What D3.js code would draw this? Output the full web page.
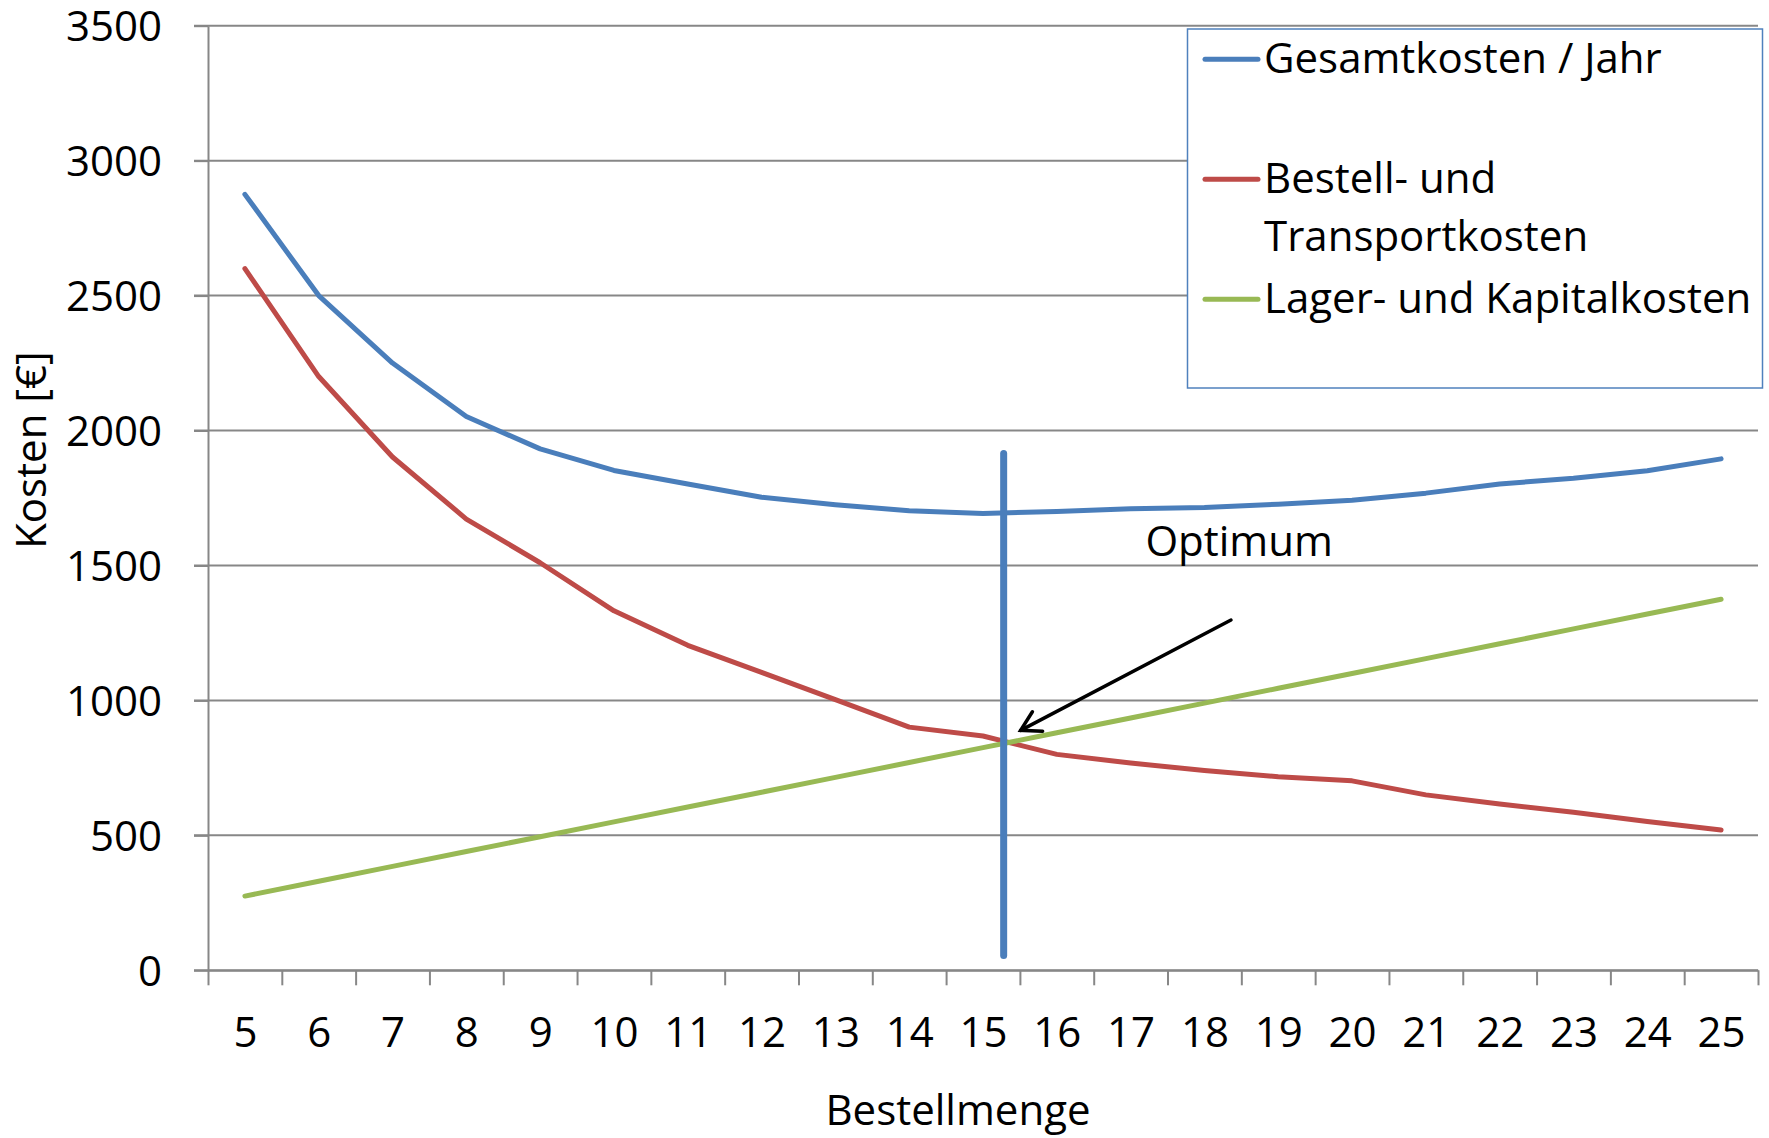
<!DOCTYPE html>
<html><head><meta charset="utf-8">
<script src="https://cdn.jsdelivr.net/npm/d3@7"></script>
<style>
html,body{margin:0;padding:0;background:#fff;}
svg{display:block;font-family:"Open Sans",sans-serif;}
</style>
</head><body>
<svg id="chart" width="1769" height="1138"></svg>
<script>
// ---- data ----
const categories = [5,6,7,8,9,10,11,12,13,14,15,16,17,18,19,20,21,22,23,24,25];
const gesamtkosten = [2875,2500,2250,2052,1932,1852,1802,1753,1725,1703,1693,1700,1710,1715,1727,1742,1768,1802,1823,1851,1895];
const bestellkosten = [2600,2200,1902,1672,1510,1332,1204,1104,1003,901,868,800,768,740,717,702,650,616,586,551,520];
const lagerkosten = [275,330,385,440,495,550,605,660,715,770,825,880,935,990,1045,1100,1155,1210,1265,1320,1375];
const yTicks = [0,500,1000,1500,2000,2500,3000,3500];
const seriesNames = ["Gesamtkosten / Jahr", "Bestell- und Transportkosten", "Lager- und Kapitalkosten"];
const legendLines = [["Gesamtkosten / Jahr"], ["Bestell- und", "Transportkosten"], ["Lager- und Kapitalkosten"]];
const xTitle = "Bestellmenge";
const yTitle = "Kosten [€]";
const optimumX = 15.28, optimumFrom = 55, optimumTo = 1915;
const arrowFrom = [18.36, 1298], arrowTo = [15.51, 889];
const optimumLabel = "Optimum", optimumLabelAt = [17.2, 1535];

(function () {
// ---- layout ----
const colors = ["#4A7EBB", "#BE4B48", "#98B954"];
const grid = "#878787";
const FS = 42;
const pLeft = 208, pRight = 1758, pTop = 25.7, pBottom = 970.3;

const svg = d3.select("#chart");
const x = d3.scaleLinear().domain([4.5, 25.5]).range([pLeft, pRight]);
const y = d3.scaleLinear().domain([0, 3500]).range([pBottom, pTop]);

// gridlines
svg.append("g").selectAll("line").data(yTicks).join("line")
  .attr("x1", pLeft - 14).attr("x2", pRight)
  .attr("y1", d => y(d)).attr("y2", d => y(d))
  .attr("stroke", grid).attr("stroke-width", 2);

// y axis
const yAxis = svg.append("g").attr("transform", `translate(${pLeft},0)`)
  .call(d3.axisLeft(y).tickValues(yTicks).tickSize(14).tickSizeOuter(0).tickPadding(32).tickFormat(d3.format("d")));
yAxis.select(".domain").attr("stroke", grid).attr("stroke-width", 2);
yAxis.selectAll(".tick line").attr("stroke", grid).attr("stroke-width", 2);
yAxis.selectAll(".tick text").attr("font-size", FS).attr("font-family", "Open Sans").attr("fill", "#000").attr("dy", "0.36em");

// x axis tick marks (category boundaries)
const bounds = d3.range(categories.length + 1).map(i => categories[0] - 0.5 + i);
const xTicks = svg.append("g").attr("transform", `translate(0,${pBottom})`)
  .call(d3.axisBottom(x).tickValues(bounds).tickSize(15).tickSizeOuter(0).tickFormat(""));
xTicks.select(".domain").attr("stroke", grid).attr("stroke-width", 2);
xTicks.selectAll(".tick line").attr("stroke", grid).attr("stroke-width", 2);

// x labels
const xLab = svg.append("g").attr("transform", `translate(0,${pBottom})`)
  .call(d3.axisBottom(x).tickValues(categories).tickSize(0).tickFormat(d3.format("d")));
xLab.select(".domain").remove();
xLab.selectAll(".tick text").attr("font-size", FS).attr("font-family", "Open Sans").attr("fill", "#000")
  .attr("dy", null).attr("y", 76.5);

// axis titles
svg.append("text").attr("x", 958).attr("y", 1125).attr("text-anchor", "middle")
  .attr("font-size", FS).text(xTitle);
svg.append("text").attr("transform", "translate(46,450) rotate(-90)").attr("text-anchor", "middle")
  .attr("font-size", FS).text(yTitle);

// series
const series = [gesamtkosten, bestellkosten, lagerkosten];
const line = d3.line().x((d, i) => x(categories[i])).y(d => y(d));
series.forEach((s, k) => {
  svg.append("path").datum(s).attr("d", line)
    .attr("fill", "none").attr("stroke", colors[k]).attr("stroke-width", 5)
    .attr("stroke-linejoin", "round").attr("stroke-linecap", "round");
});

// optimum vertical line
svg.append("line")
  .attr("x1", x(optimumX)).attr("x2", x(optimumX))
  .attr("y1", y(optimumTo)).attr("y2", y(optimumFrom))
  .attr("stroke", colors[0]).attr("stroke-width", 7).attr("stroke-linecap", "round");

// arrow
const ax0 = x(arrowFrom[0]), ay0 = y(arrowFrom[1]), ax1 = x(arrowTo[0]), ay1 = y(arrowTo[1]);
svg.append("line").attr("x1", ax0).attr("y1", ay0).attr("x2", ax1).attr("y2", ay1)
  .attr("stroke", "#000").attr("stroke-width", 3.5).attr("stroke-linecap", "round");
const ang = Math.atan2(ay0 - ay1, ax0 - ax1), aLen = 22, spread = Math.PI / 6;
const arm = a => [ax1 + aLen * Math.cos(a), ay1 + aLen * Math.sin(a)];
const p1 = arm(ang + spread), p2 = arm(ang - spread);
svg.append("path").attr("d", `M${p1[0]},${p1[1]}L${ax1},${ay1}L${p2[0]},${p2[1]}`)
  .attr("fill", "none").attr("stroke", "#000").attr("stroke-width", 3.5)
  .attr("stroke-linecap", "round").attr("stroke-linejoin", "miter");

svg.append("text").attr("x", x(optimumLabelAt[0])).attr("y", y(optimumLabelAt[1]))
  .attr("font-size", FS).text(optimumLabel);

// legend
const lg = svg.append("g");
lg.append("rect").attr("x", 1187.5).attr("y", 29).attr("width", 575).attr("height", 359)
  .attr("fill", "#fff").attr("stroke", "#4F81BD").attr("stroke-width", 1.5);
const legendY = [59.3, 179.3, 299.3];
legendLines.forEach((lines, k) => {
  lg.append("line").attr("x1", 1205).attr("x2", 1258).attr("y1", legendY[k]).attr("y2", legendY[k])
    .attr("stroke", colors[k]).attr("stroke-width", 5).attr("stroke-linecap", "round");
  lines.forEach((t, j) => {
    lg.append("text").attr("x", 1264).attr("y", legendY[k] + 14 + j * 58)
      .attr("font-size", FS).text(t);
  });
});
})();
</script>
</body></html>
